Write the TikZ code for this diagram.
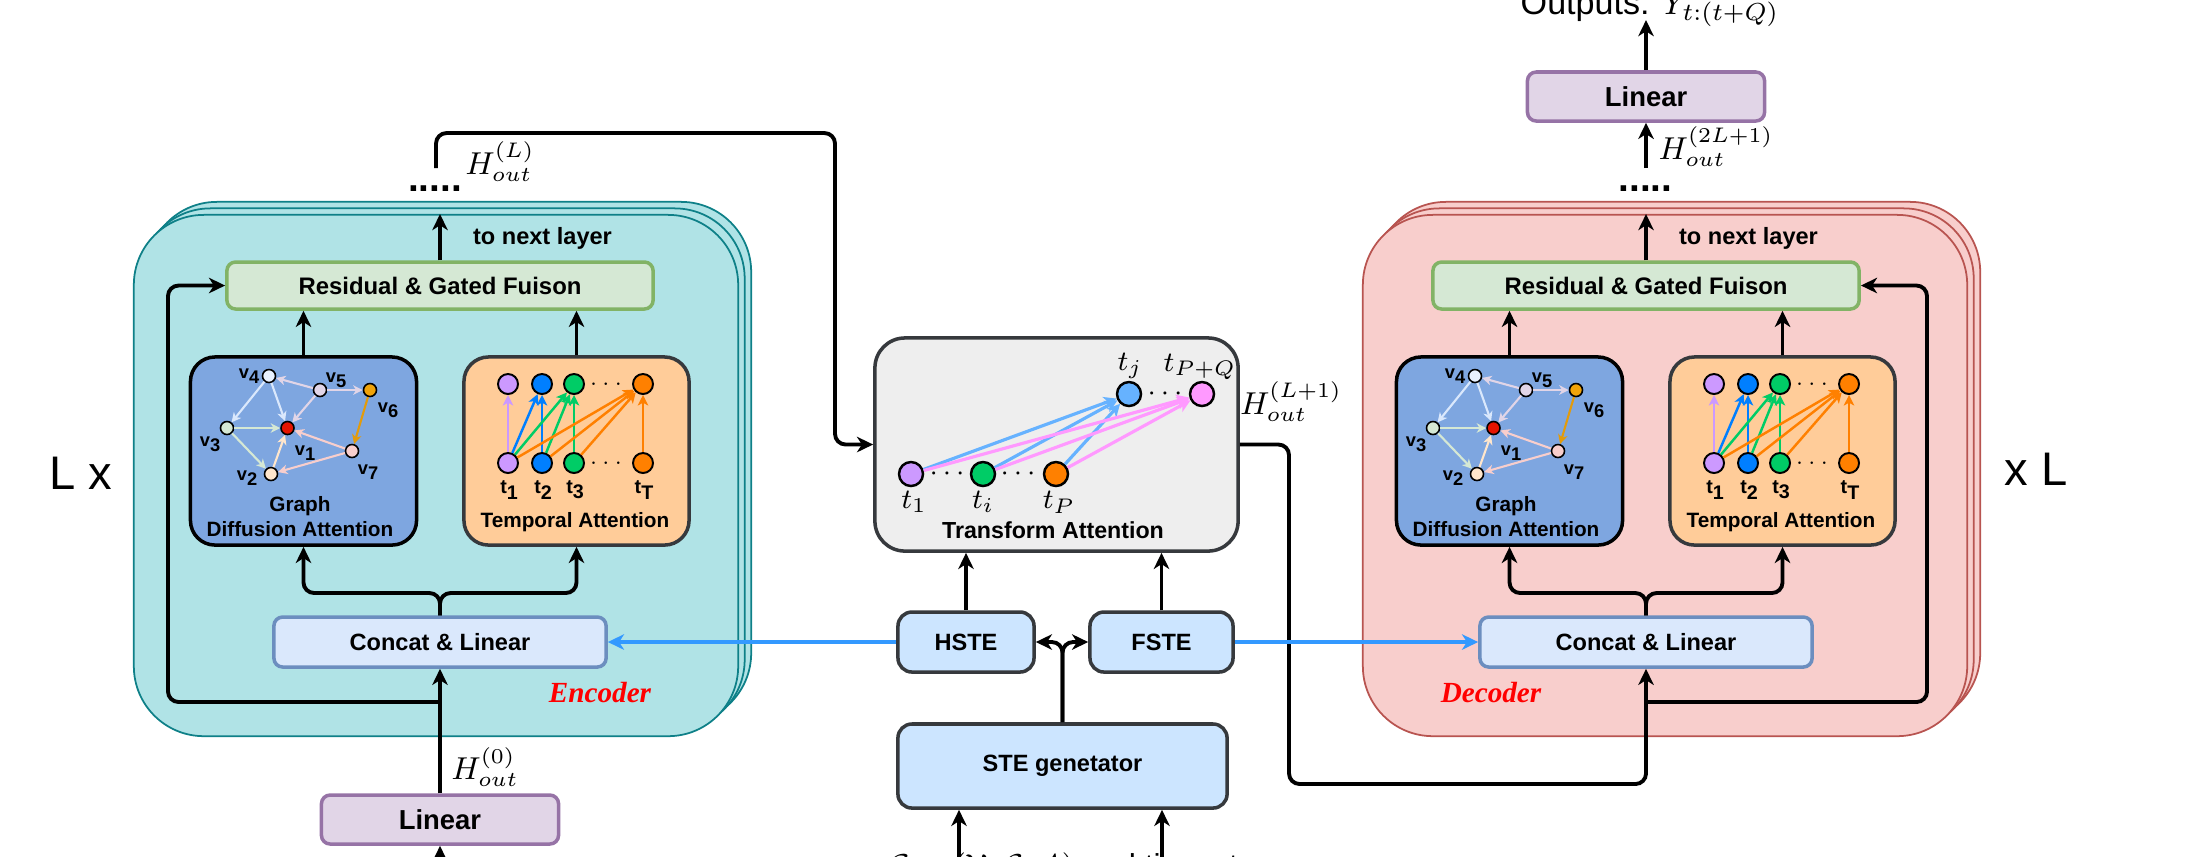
\documentclass[tikz,border=0pt]{standalone}
\usepackage{fontspec}
\setmainfont{Liberation Sans}
\newfontfamily\serifbi{Liberation Serif}
\usetikzlibrary{arrows.meta}
\tikzset{>={Stealth[length=4.6pt,width=4.4pt,inset=1.4pt]}}
\newcommand{\lowsub}[1]{\raisebox{-0.5ex}{#1}}

\definecolor{encfill}{HTML}{B0E3E6}
\definecolor{encline}{HTML}{0E8088}
\definecolor{decfill}{HTML}{F8CECC}
\definecolor{decline}{HTML}{B85450}
\definecolor{resfill}{HTML}{D5E8D4}
\definecolor{resline}{HTML}{82B366}
\definecolor{catfill}{HTML}{DAE8FC}
\definecolor{catline}{HTML}{6C8EBF}
\definecolor{linfill}{HTML}{E1D5E7}
\definecolor{linline}{HTML}{9673A6}
\definecolor{stefill}{HTML}{CCE5FF}
\definecolor{darkline}{HTML}{36393D}
\definecolor{gdafill}{HTML}{7EA6E0}
\definecolor{tmpfill}{HTML}{FFCC99}
\definecolor{trfill}{HTML}{EEEEEE}
\definecolor{steblue}{HTML}{3399FF}
% graph nodes
\definecolor{vred}{HTML}{E51400}
\definecolor{vpeach}{HTML}{FFE6CC}
\definecolor{vgreen}{HTML}{D5E8D4}
\definecolor{vblue}{HTML}{E8F1FF}
\definecolor{vlav}{HTML}{E1D5E7}
\definecolor{vorange}{HTML}{F0A30A}
\definecolor{vpink}{HTML}{F8CECC}
\definecolor{eblue}{HTML}{DAE8FC}
\definecolor{eorange}{HTML}{E39B0B}
% time nodes
\definecolor{tpurple}{HTML}{CC99FF}
\definecolor{tblue}{HTML}{007FFF}
\definecolor{tgreen}{HTML}{00CC66}
\definecolor{torange}{HTML}{FF8000}
\definecolor{jblue}{HTML}{66B2FF}
\definecolor{qpink}{HTML}{FF99FF}

\tikzset{
  stackbox/.style={draw, line width=0.5pt, minimum width=6.04cm, minimum height=5.21cm, rounded corners=0.7cm},
  blk/.style={draw, line width=1pt, inner sep=0pt, align=center, font=\bfseries\fontsize{6.7pt}{8pt}\selectfont},
  resbox/.style={blk, draw=resline, fill=resfill, minimum width=4.26cm, minimum height=0.47cm, rounded corners=2.5pt, font=\bfseries\fontsize{6.8pt}{8pt}\selectfont},
  catbox/.style={blk, draw=catline, fill=catfill, minimum width=3.32cm, minimum height=0.5cm, rounded corners=2.5pt},
  linbox/.style={blk, draw=linline, fill=linfill, minimum width=2.37cm, minimum height=0.49cm, rounded corners=2.5pt, font=\bfseries\fontsize{7.8pt}{9pt}\selectfont},
  stebox/.style={blk, draw=darkline, fill=stefill, rounded corners=4pt},
  attbox/.style={blk, minimum width=2.26cm, minimum height=1.88cm, rounded corners=7pt},
  conn/.style={line width=1.1pt, rounded corners=3pt},
  bconn/.style={steblue, line width=1pt},
  gnode/.style={circle, draw, line width=0.45pt, inner sep=0pt, minimum size=0.13cm},
  tnode/.style={circle, draw, line width=0.55pt, inner sep=0pt, minimum size=0.2cm},
  pnode/.style={circle, draw, line width=0.7pt, inner sep=0pt, minimum size=0.24cm},
  gedge/.style={->, line width=0.6pt, >={Stealth[length=2.7pt,width=2.7pt,inset=0.8pt]}},
  tedge/.style={->, line width=0.7pt, >={Stealth[length=3pt,width=3pt,inset=0.8pt]}},
  pedge/.style={->, line width=0.9pt, >={Stealth[length=3.6pt,width=3.6pt,inset=1pt]}},
  vlab/.style={font=\bfseries\fontsize{5.2pt}{6pt}\selectfont, inner sep=0pt},
  ttl/.style={font=\bfseries\fontsize{5.9pt}{7.1pt}\selectfont, inner sep=0pt, align=center},
  hlab/.style={font=\fontsize{9pt}{10pt}\selectfont, inner sep=0pt},
  dotrow/.style={font=\bfseries\fontsize{11pt}{11pt}\selectfont, inner sep=0pt, anchor=base},
}

\begin{document}
\begin{tikzpicture}[x=0.01cm, y=-0.01cm]
  \useasboundingbox (0,0) rectangle (2195,856);

  % encoder / decoder stacks
  \foreach \k in {2,1}{
    \node[stackbox, draw=encline, fill=encfill] at ({436+6.5*\k},{475.5-6.5*\k}) {};
    \node[stackbox, draw=decline, fill=decfill] at ({1665+6.5*\k},{475.5-6.5*\k}) {};
  }
  \node[stackbox, draw=encline, fill=encfill] (estack) at (436,475.5) {};
  \node[stackbox, draw=decline, fill=decfill] (dstack) at (1665,475.5) {};

  \node[font=\fontsize{13.4pt}{14pt}\selectfont] (lx) at (81,473) {L x};
  \node[font=\fontsize{13.4pt}{14pt}\selectfont] (xl) at (2036,469) {x L};

  % one layer, drawn twice
  \foreach \p/\dx in {e/0,d/1206}{
  \begin{scope}[xshift=\dx*0.01cm]
    \node[resbox] (\p res) at (440,285.5) {Residual \& Gated Fuison};
    \node[attbox, fill=gdafill] (\p gda) at (303.5,451) {};
    \node[attbox, draw=darkline, fill=tmpfill, minimum width=2.25cm] (\p tmp) at (576.5,451) {};
    \node[catbox] (\p cat) at (440,642) {Concat \& Linear};
    \node[ttl] (\p gdat) at (300,517) {Graph\\Diffusion Attention};
    \node[ttl] (\p tmpt) at (575,522.5) {Temporal Attention};
    \node[font=\bfseries\fontsize{6.7pt}{8pt}\selectfont] (\p next) at (542.5,238) {to next layer};

    % graph
    \foreach \n/\x/\y/\c in {1/287.5/428/vred, 2/271/474/vpeach, 3/227/428/vgreen,
        4/269/376/vblue, 5/320/390/vlav, 6/370/390/vorange, 7/352/451/vpink}
      \node[gnode, fill=\c] (\p v\n) at (\x,\y) {};
    \foreach \n/\x/\y in {1/305/453, 2/247/478, 3/210/444, 4/249/376, 5/336/380, 6/388/410, 7/368/472}
      \node[vlab] (\p vl\n) at (\x,\y) {v\lowsub{\n}};
    \foreach \a/\b/\c in {5/4/vlav, 5/6/vlav, 5/1/vlav, 4/3/eblue, 4/1/eblue, 3/1/vgreen,
        3/2/vgreen, 2/1/vpeach, 7/1/vpink, 7/2/vpink, 6/7/eorange}
      \draw[gedge, \c] (\p v\a) -- (\p v\b);

    % time steps
    \foreach \n/\x/\c/\s in {1/508/tpurple/1, 2/542/tblue/2, 3/574/tgreen/3, 4/643/torange/T}{
      \node[tnode, fill=\c] (\p tt\n) at (\x,384) {};
      \node[tnode, fill=\c] (\p tb\n) at (\x,463) {};
      \node[vlab, font=\bfseries\fontsize{5.6pt}{6pt}\selectfont] (\p tl\n) at (\x+1,490) {t\lowsub{\s}};
    }
    \node[inner sep=0pt, font=\fontsize{6pt}{6pt}\selectfont] (\p tdt) at (606,384) {$\cdots$};
    \node[inner sep=0pt, font=\fontsize{6pt}{6pt}\selectfont] (\p tdb) at (606,463) {$\cdots$};
    \foreach \a/\b/\c in {1/1/tpurple, 1/2/tblue, 2/2/tblue, 1/3/tgreen, 2/3/tgreen, 3/3/tgreen,
        1/4/torange, 2/4/torange, 3/4/torange, 4/4/torange}
      \draw[tedge, \c] (\p tb\a) -- (\p tt\b);

    \draw[conn,->] (\p cat.north) -- (440,593) -| (\p gda.south);
    \draw[conn,->] (\p cat.north) -- (440,593) -| (\p tmp.south);
    \draw[conn,->] (\p gda.north) -- (\p gda.north |- \p res.south);
    \draw[conn,->] (\p tmp.north) -- (\p tmp.north |- \p res.south);
    \draw[conn,->] (\p res.north) -- (\p res.north |- \p stack.north);
  \end{scope}
  }

  \node[font=\serifbi\bfseries\itshape\fontsize{8.3pt}{9pt}\selectfont, text=red] (enclab) at (600,692) {Encoder};
  \node[font=\serifbi\bfseries\itshape\fontsize{8.3pt}{9pt}\selectfont, text=red] (declab) at (1491,692) {Decoder};

  \node[dotrow] (edots) at (435,191) {.....};
  \node[dotrow] (ddots) at (1645.5,191) {.....};

  % linear layers
  \node[linbox] (elin) at (440,819.5) {Linear};
  \node[linbox] (dlin) at (1646,96.5) {Linear};

  % transform attention
  \node[blk, draw=darkline, fill=trfill, minimum width=3.63cm, minimum height=2.13cm, rounded corners=0.3cm] (trans) at (1056.5,444.5) {};
  \node[font=\bfseries\fontsize{6.6pt}{8pt}\selectfont, inner sep=0pt] (transt) at (1053,530) {Transform Attention};
  \node[pnode, fill=tpurple] (p1) at (911,474) {};
  \node[pnode, fill=tgreen] (pi) at (983,474) {};
  \node[pnode, fill=torange] (pP) at (1056,474) {};
  \node[pnode, fill=jblue] (pj) at (1129,394) {};
  \node[pnode, fill=qpink] (pQ) at (1202,394) {};
  \node[inner sep=0pt, font=\fontsize{8pt}{8pt}\selectfont] (pd1) at (947,474) {$\cdots$};
  \node[inner sep=0pt, font=\fontsize{8pt}{8pt}\selectfont] (pd2) at (1018,474) {$\cdots$};
  \node[inner sep=0pt, font=\fontsize{8pt}{8pt}\selectfont] (pd3) at (1165,394) {$\cdots$};
  \node[hlab, font=\fontsize{8pt}{9pt}\selectfont] (pl1) at (914,502) {$t_1$};
  \node[hlab, font=\fontsize{8pt}{9pt}\selectfont] (pli) at (983,502) {$t_i$};
  \node[hlab, font=\fontsize{8pt}{9pt}\selectfont] (plP) at (1059,502) {$t_P$};
  \node[hlab, font=\fontsize{8pt}{9pt}\selectfont] (plj) at (1130,366) {$t_j$};
  \node[hlab, font=\fontsize{8pt}{9pt}\selectfont] (plQ) at (1200,367) {$t_{P+Q}$};
  \foreach \s in {p1,pi,pP} \draw[pedge, jblue] (\s) -- (pj);
  \foreach \s in {p1,pi,pP} \draw[pedge, qpink] (\s) -- (pQ);

  % embeddings
  \node[stebox, minimum width=1.36cm, minimum height=0.6cm] (hste) at (966,642) {HSTE};
  \node[stebox, minimum width=1.43cm, minimum height=0.6cm] (fste) at (1161.5,642) {FSTE};
  \node[stebox, minimum width=3.29cm, minimum height=0.84cm] (ste) at (1062.5,766) {STE genetator};

  \node[hlab] (hL) at (500,162) {$H_{out}^{(L)}$};
  \node[hlab] (h0) at (485,767) {$H_{out}^{(0)}$};
  \node[hlab] (hL1) at (1291,402) {$H_{out}^{(L+1)}$};
  \node[hlab] (h2L) at (1716,147) {$H_{out}^{(2L+1)}$};

  \node[anchor=base west, inner sep=0pt, font=\fontsize{9.7pt}{11pt}\selectfont] (outtxt) at (1520,14) {Outputs: $Y_{t:(t+Q)}$};
  \node[anchor=north west, inner sep=0pt, font=\fontsize{9pt}{11pt}\selectfont] (intxt) at (888,852) {$\mathcal{G}=(\mathcal{V},\mathcal{E},A)$ and time steps};

  \coordinate (etop) at (436,168);
  \coordinate (dtop) at (1646,168);
  \coordinate (esplit) at (440,702);
  \coordinate (dsplit) at (1646,702);
  \coordinate (outpt) at (1646,20);
  \coordinate (ein) at (440,880);
  \coordinate (sin1) at (959,880);
  \coordinate (sin2) at (1162,880);

  % connectors
  \draw[conn,->] (ein) -- (elin.south);
  \draw[conn,->] (elin.north) -- (ecat.south);
  \draw[conn,->] (esplit) -- (168,702) |- (eres.west);
  \draw[conn,->] (etop) |- (835,133) |- (trans.west);
  \draw[conn,->] (trans.east) -| (1289,784) -| (dcat.south);
  \draw[conn,->] (dsplit) -- (1927,702) |- (dres.east);
  \draw[conn,->] (dtop) -- (dlin.south);
  \draw[conn,->] (dlin.north) -- (outpt);
  \draw[conn,->] (ste.north) |- (hste.east);
  \draw[conn,->] (ste.north) |- (fste.west);
  \draw[conn,->] (hste.north) -- (hste.north |- trans.south);
  \draw[conn,->] (fste.north) -- (fste.north |- trans.south);
  \draw[conn,->] (sin1) -- (sin1 |- ste.south);
  \draw[conn,->] (sin2) -- (sin2 |- ste.south);
  \draw[bconn,->] (hste.west) -- (ecat.east);
  \draw[bconn,->] (fste.east) -- (dcat.west);
\end{tikzpicture}
\end{document}
